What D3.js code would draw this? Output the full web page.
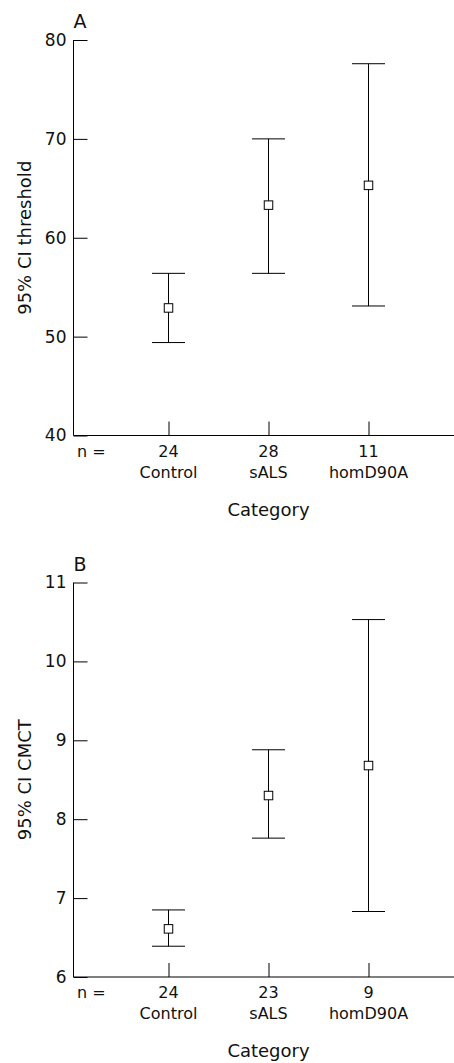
<!DOCTYPE html>
<html>
<head>
<meta charset="utf-8">
<script src="https://cdn.jsdelivr.net/npm/d3@7"></script>
<style>
  body { margin: 0; background: #fff; }
  svg text { font-family: "DejaVu Sans", sans-serif; fill: #111; }
</style>
</head>
<body>
<svg id="chart"></svg>
<script>
// data
const categories = ['Control', 'sALS', 'homD90A']

const thresholdN = [24, 28, 11]
const thresholdMean = [52.9, 63.3, 65.3]
const thresholdLower = [49.4, 56.4, 53.1]
const thresholdUpper = [56.4, 70.0, 77.6]
const thresholdTicks = [40, 50, 60, 70, 80]

const cmctN = [24, 23, 9]
const cmctMean = [6.61, 8.3, 8.68]
const cmctLower = [6.39, 7.76, 6.83]
const cmctUpper = [6.85, 8.88, 10.53]
const cmctTicks = [6, 7, 8, 9, 10, 11]

const width = 454
const height = 1063

const svg = d3.select('#chart').attr('width', width).attr('height', height)

function rows(n, mean, lower, upper) {
    return categories.map((c, i) => ({
        cat: c, n: n[i], mean: mean[i], lower: lower[i], upper: upper[i]
    }))
}

const panels = [
    {
        letter: 'A', yLabel: '95% CI threshold',
        data: rows(thresholdN, thresholdMean, thresholdLower, thresholdUpper),
        ticks: thresholdTicks, top: 40, bottom: 435.5
    },
    {
        letter: 'B', yLabel: '95% CI CMCT',
        data: rows(cmctN, cmctMean, cmctLower, cmctUpper),
        ticks: cmctTicks, top: 582.5, bottom: 977
    }
]

const axisX = 73.5
const capHalf = 16.5
const box = 8.5

panels.forEach(p => {
    const g = svg.append('g')

    const x = d3.scalePoint().domain(categories).range([168.5, 368.5])
    const y = d3.scaleLinear()
        .domain(d3.extent(p.ticks))
        .range([p.bottom, p.top])

    // y axis, ticks point inward
    const yAxis = g.append('g')
        .attr('transform', `translate(${axisX},0)`)
        .call(d3.axisLeft(y).tickValues(p.ticks).tickFormat(d3.format('d'))
            .tickSize(-14).tickPadding(7).tickSizeOuter(0))
    yAxis.select('.domain').remove()
    yAxis.selectAll('text')
        .style('font-size', '17px')
        .style('font-family', '"DejaVu Sans", sans-serif')
        .attr('fill', '#111')

    g.append('line')
        .attr('x1', axisX).attr('x2', axisX)
        .attr('y1', p.top).attr('y2', p.bottom)
        .attr('stroke', '#000')

    // x axis
    const xAxis = g.append('g')
        .attr('transform', `translate(0,${p.bottom})`)
        .call(d3.axisBottom(x).tickSize(-14).tickFormat(''))
    xAxis.select('.domain').remove()

    g.append('line')
        .attr('x1', axisX).attr('x2', width)
        .attr('y1', p.bottom).attr('y2', p.bottom)
        .attr('stroke', '#000')

    // panel letter
    g.append('text')
        .attr('x', axisX)
        .attr('y', p.top - 12)
        .style('font-size', '19px')
        .text(p.letter)

    // y label
    g.append('text')
        .attr('transform', `translate(31,${(p.top + p.bottom) / 2}) rotate(-90)`)
        .attr('text-anchor', 'middle')
        .style('font-size', '18px')
        .text(p.yLabel)

    // n row + category names
    g.append('text')
        .attr('x', 77)
        .attr('y', p.bottom + 21)
        .style('font-size', '16px')
        .text('n =')

    const labels = g.selectAll('.cat-label')
        .data(p.data)
        .join('g')
        .attr('class', 'cat-label')
        .attr('transform', d => `translate(${x(d.cat)},0)`)
    labels.append('text')
        .attr('y', p.bottom + 21)
        .attr('text-anchor', 'middle')
        .style('font-size', '16px')
        .text(d => d.n)
    labels.append('text')
        .attr('y', p.bottom + 42)
        .attr('text-anchor', 'middle')
        .style('font-size', '16px')
        .text(d => d.cat)

    g.append('text')
        .attr('x', x('sALS'))
        .attr('y', p.bottom + 80)
        .attr('text-anchor', 'middle')
        .style('font-size', '18px')
        .text('Category')

    // error bars
    const bars = g.selectAll('.bar')
        .data(p.data)
        .join('g')
        .attr('class', 'bar')
        .attr('stroke', '#000')
        .attr('fill', 'none')

    bars.append('line')
        .attr('x1', d => x(d.cat)).attr('x2', d => x(d.cat))
        .attr('y1', d => y(d.upper)).attr('y2', d => y(d.lower))
    bars.append('line')
        .attr('x1', d => x(d.cat) - capHalf).attr('x2', d => x(d.cat) + capHalf)
        .attr('y1', d => y(d.upper)).attr('y2', d => y(d.upper))
    bars.append('line')
        .attr('x1', d => x(d.cat) - capHalf).attr('x2', d => x(d.cat) + capHalf)
        .attr('y1', d => y(d.lower)).attr('y2', d => y(d.lower))
    bars.append('rect')
        .attr('x', d => x(d.cat) - box / 2)
        .attr('y', d => y(d.mean) - box / 2)
        .attr('width', box).attr('height', box)
        .attr('fill', '#fff')
})
</script>
</body>
</html>
